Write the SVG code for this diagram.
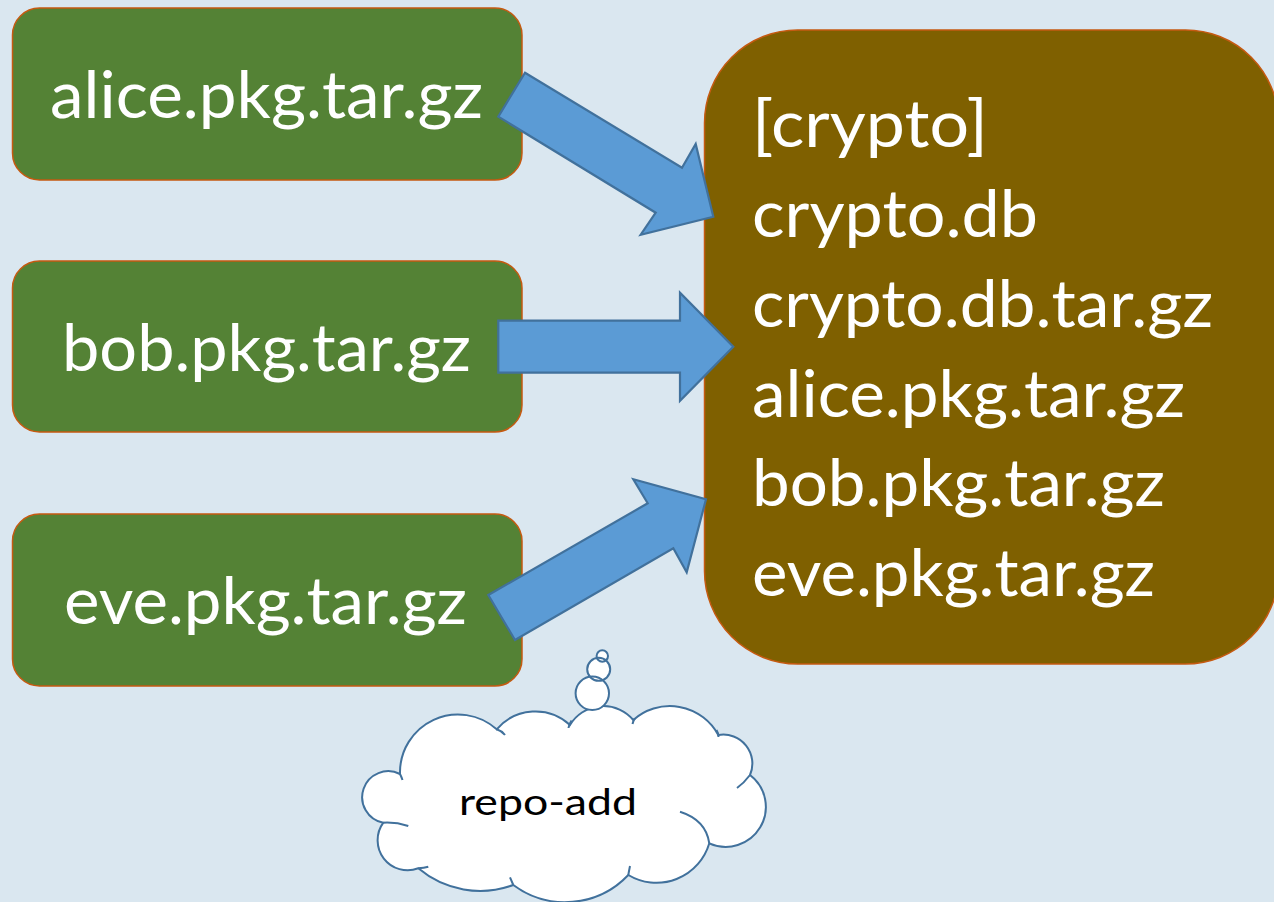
<svg xmlns="http://www.w3.org/2000/svg" width="1274" height="902" viewBox="0 0 1274 902">
<style>
.bg{fill:#DAE7F0}
.gbox{fill:#548235;stroke:#C55A11;stroke-width:1.5}
.bbox{fill:#7F6000;stroke:#C55A11;stroke-width:1.5}
.t{font-family:Lato,"Open Sans","Liberation Sans",sans-serif;font-size:66px;fill:#FFFFFF}
.ct{font-family:Lato,"Open Sans","Liberation Sans",sans-serif;font-size:37px;fill:#000000}
.arrow{fill:#5B9BD5;stroke:#41719C;stroke-width:2.2;stroke-linejoin:miter}
.cloud{fill:#FFFFFF;stroke:#41719C;stroke-width:2}
.cline{fill:none;stroke:#41719C;stroke-width:2}
.bf{fill:#FFFFFF;stroke:none}
</style>
<rect class="bg" x="0" y="0" width="1274" height="902"/>
<g id="node-alice">
<rect class="gbox" x="12.5" y="8" width="509.5" height="172" rx="27"/>
<text class="t" x="50" y="118" textLength="433" lengthAdjust="spacingAndGlyphs">alice.pkg.tar.gz</text>
</g>
<g id="node-bob">
<rect class="gbox" x="12.5" y="261" width="509.5" height="171" rx="27"/>
<text class="t" x="62" y="371" textLength="409" lengthAdjust="spacingAndGlyphs">bob.pkg.tar.gz</text>
</g>
<g id="node-eve">
<rect class="gbox" x="12.5" y="514" width="509.5" height="172" rx="27"/>
<text class="t" x="64" y="624" textLength="403" lengthAdjust="spacingAndGlyphs">eve.pkg.tar.gz</text>
</g>
<g id="node-repo">
<rect class="bbox" x="704.5" y="30" width="574" height="634" rx="93"/>
<text class="t" x="752" y="147" textLength="236" lengthAdjust="spacingAndGlyphs">[crypto]</text>
<text class="t" x="752" y="237" textLength="286" lengthAdjust="spacingAndGlyphs">crypto.db</text>
<text class="t" x="752" y="327" textLength="461" lengthAdjust="spacingAndGlyphs">crypto.db.tar.gz</text>
<text class="t" x="752" y="417" textLength="433" lengthAdjust="spacingAndGlyphs">alice.pkg.tar.gz</text>
<text class="t" x="752" y="506" textLength="413" lengthAdjust="spacingAndGlyphs">bob.pkg.tar.gz</text>
<text class="t" x="752" y="596" textLength="403" lengthAdjust="spacingAndGlyphs">eve.pkg.tar.gz</text>
</g>
<g id="node-cloud">
<path class="cloud" d="M400,774 A58,58 0 0 1 496.7,729.3 A51,51 0 0 1 570,725 A39,39 0 0 1 633.3,720 A55,55 0 0 1 718.3,735 A29,29 0 0 1 750,775 A40,40 0 0 1 709.3,843.3 A55,55 0 0 1 628.3,875 A87,87 0 0 1 513.3,885 A96,96 0 0 1 418.3,868.3 A30,30 0 0 1 383.3,822.7 A26,26 0 1 1 400,774 Z"/>
<path class="cline" d="M496.7,729.3 Q502,731 505,735 M571.5,720.5 Q569,724 568.5,728 M635,718.5 Q633,721 632.5,724 M716.5,730 Q718.5,733 718.5,737 M750,775 Q744,783 737,788 M680,811.7 Q706,820 709.3,843.3 M630,866 Q629,871 628.3,875 M510,877.3 Q512,882 513.3,885 M418.3,868.3 Q424,868 428.3,866.7 M383.3,822.7 Q396,822 408.3,826 M400,774 Q401.5,777 402.5,780"/>
<circle class="bf" cx="602.3" cy="656" r="5.7"/>
<circle class="bf" cx="598.7" cy="669.3" r="11.5"/>
<circle class="bf" cx="592.3" cy="693.3" r="16.7"/>
<circle class="cline" cx="602.3" cy="656" r="5.7"/>
<circle class="cline" cx="598.7" cy="669.3" r="11.5"/>
<circle class="cline" cx="592.3" cy="693.3" r="16.7"/>
<text class="ct" x="459" y="815" textLength="178" lengthAdjust="spacingAndGlyphs">repo-add</text>
</g>
<g id="connectors">
<polygon class="arrow" points="525,72.7 682,167.7 695.7,144 713.3,216.7 640.7,234.7 655.7,212.7 498.3,116.7"/>
<polygon class="arrow" points="498.3,320.7 680,320.7 680,292.7 733.3,346.7 680,400.7 680,372.7 498.3,372.7"/>
<polygon class="arrow" points="488.3,595 647.7,503.3 633.3,479.3 706,499.3 686.7,572.3 673.3,548.3 515,640"/>
</g>
</svg>
